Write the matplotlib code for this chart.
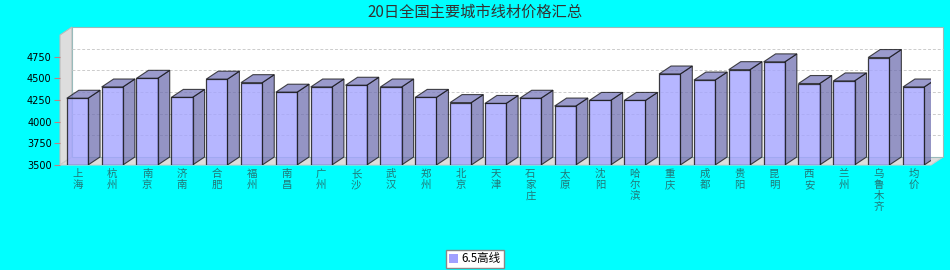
import matplotlib
matplotlib.use('Agg')
import matplotlib.pyplot as plt
from matplotlib.patches import Polygon, Patch

plt.rcParams['font.family'] = ['Noto Sans CJK SC', 'DejaVu Sans']

# data
cities = ['上海', '杭州', '南京', '济南', '合肥', '福州', '南昌', '广州', '长沙', '武汉',
          '郑州', '北京', '天津', '石家庄', '太原', '沈阳', '哈尔滨', '重庆', '成都', '贵阳',
          '昆明', '西安', '兰州', '乌鲁木齐', '均价']
prices = [4270, 4400, 4500, 4280, 4490, 4450, 4340, 4400, 4420, 4400,
          4280, 4220, 4210, 4270, 4180, 4245, 4245, 4550, 4480, 4600,
          4690, 4440, 4470, 4740, 4400]
yticks = [3500, 3750, 4000, 4250, 4500, 4750]
series_name = '6.5高线'
title = '20日全国主要城市线材价格汇总'

ymin, ymax = 3500, 5000
n = len(cities)
bw = 0.61

fig = plt.figure(figsize=(9.5, 2.7), dpi=100)
fig.patch.set_facecolor('#00FFFF')
ax = fig.add_axes([60 / 950, 105 / 270, 871 / 950, 130 / 270])
ax.set_xlim(-0.5, n - 0.5)
ax.set_ylim(ymin, ymax)
ax.patch.set_alpha(0)
for s in ax.spines.values():
    s.set_visible(False)

# 3d depth offset, 12px right and 8px up, in data units
dx = 12 / (871 / n)
dy = 8 / (130 / (ymax - ymin))
x0, x1 = -0.5, n - 0.5

# left wall, floor, back wall
ax.add_patch(Polygon([(x0, ymin), (x0 + dx, ymin + dy), (x0 + dx, ymax + dy), (x0, ymax)],
                     closed=True, fc='#DDDDDD', ec='#BBBBBB', lw=0.8, clip_on=False, zorder=1))
ax.add_patch(Polygon([(x0, ymin), (x1, ymin), (x1 + dx, ymin + dy), (x0 + dx, ymin + dy)],
                     closed=True, fc='#DDDDDD', ec='#CCCCCC', lw=0.8, clip_on=False, zorder=1))
ax.add_patch(Polygon([(x0 + dx, ymin + dy), (x1 + dx, ymin + dy), (x1 + dx, ymax + dy), (x0 + dx, ymax + dy)],
                     closed=True, fc='white', ec='#99BBBB', lw=0.8, clip_on=False, zorder=1))
for t in yticks[1:]:
    ax.plot([x0 + dx, x1 + dx], [t + dy, t + dy], color='#CCCCCC', lw=0.7,
            ls=(0, (3, 2)), clip_on=False, zorder=2)

# bars: side and top faces, then front
for i, v in enumerate(prices):
    l, r = i - bw / 2, i + bw / 2
    ax.add_patch(Polygon([(r, ymin), (r + dx, ymin + dy), (r + dx, v + dy), (r, v)],
                         closed=True, fc='#7070B0', alpha=0.75, ec='#111111', lw=0.8, zorder=3))
    ax.add_patch(Polygon([(l, v), (r, v), (r + dx, v + dy), (l + dx, v + dy)],
                         closed=True, fc='#7878BC', alpha=0.75, ec='#111111', lw=0.8, zorder=3))
ax.bar(range(n), [v - ymin for v in prices], bottom=ymin, width=bw,
       color='#A4A4FF', alpha=0.8, edgecolor='#111111', linewidth=0.9, zorder=4)

ax.set_yticks(yticks)
ax.set_yticklabels([str(t) for t in yticks], fontsize=7, family='DejaVu Sans')
ax.tick_params(axis='y', length=4, color='#C08080', pad=2)
ax.set_xticks(range(n))
ax.set_xticklabels(['\n'.join(c) for c in cities], fontsize=7.5, color='#227777',
                   linespacing=1.1)
ax.tick_params(axis='x', length=0, pad=3)

fig.text(0.5, 1 - 12 / 270, title, ha='center', va='center', fontsize=11, color='#333333')

leg = fig.legend(handles=[Patch(facecolor='#A0A0FF', edgecolor='none', label=series_name)],
                 loc='lower center', bbox_to_anchor=(0.5, 0.0), fontsize=8.3,
                 frameon=True, fancybox=False, framealpha=1, handlelength=0.8, handleheight=0.8,
                 handletextpad=0.3, borderpad=0.25, borderaxespad=0.15)
leg.get_frame().set_edgecolor('#888888')
leg.get_frame().set_facecolor('white')
leg.get_frame().set_linewidth(1)

fig.savefig('out.png', dpi=100, facecolor=fig.get_facecolor())
